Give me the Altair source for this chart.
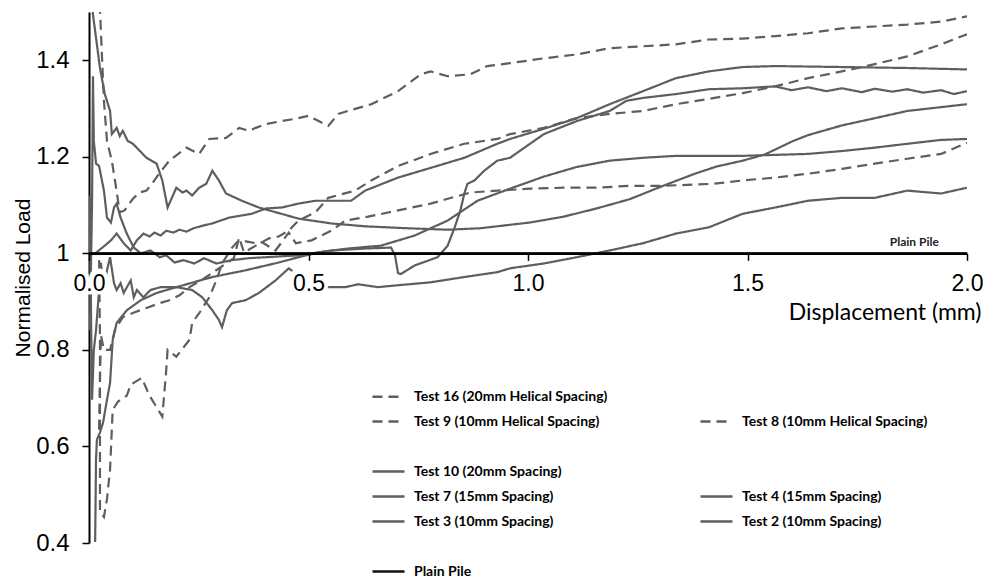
import altair as alt
import pandas as pd

# ---------------- data (displacement mm, normalised load) ----------------
test16 = [(0.023, 1.55), (0.029, 1.419), (0.034, 1.316), (0.041, 1.233), (0.052, 1.192), (0.061, 1.140),
          (0.070, 1.085), (0.081, 1.089), (0.100, 1.113), (0.115, 1.126), (0.131, 1.130), (0.149, 1.151),
          (0.161, 1.167), (0.183, 1.192), (0.222, 1.219), (0.251, 1.206), (0.274, 1.237), (0.312, 1.239),
          (0.342, 1.260), (0.364, 1.254), (0.380, 1.260), (0.403, 1.268), (0.439, 1.274), (0.477, 1.280),
          (0.500, 1.285), (0.523, 1.274), (0.545, 1.264), (0.568, 1.289), (0.590, 1.295), (0.643, 1.309),
          (0.704, 1.336), (0.756, 1.371), (0.778, 1.377), (0.817, 1.367), (0.869, 1.371), (0.907, 1.388),
          (0.959, 1.394), (1.036, 1.404), (1.111, 1.412), (1.186, 1.425), (1.262, 1.429), (1.337, 1.433),
          (1.412, 1.443), (1.489, 1.445), (1.563, 1.450), (1.638, 1.456), (1.715, 1.466), (1.790, 1.470),
          (1.864, 1.474), (1.941, 1.480), (2.000, 1.491)]

test9 = [(0.023, 0.635), (0.025, 0.738), (0.027, 0.831), (0.034, 0.800), (0.048, 0.800), (0.059, 0.841),
         (0.077, 0.868), (0.104, 0.878), (0.131, 0.887), (0.161, 0.897), (0.183, 0.903), (0.206, 0.913),
         (0.229, 0.930), (0.262, 0.948), (0.296, 0.969), (0.330, 0.990), (0.342, 1.033), (0.353, 1.002),
         (0.380, 1.016), (0.410, 1.031), (0.432, 1.035), (0.455, 1.047), (0.477, 1.068), (0.516, 1.085),
         (0.545, 1.115), (0.606, 1.130), (0.643, 1.151), (0.704, 1.181), (0.778, 1.206), (0.855, 1.227),
         (0.930, 1.237), (0.959, 1.247), (1.036, 1.260), (1.111, 1.280), (1.186, 1.289), (1.262, 1.295),
         (1.337, 1.309), (1.412, 1.320), (1.489, 1.332), (1.563, 1.346), (1.638, 1.363), (1.715, 1.377),
         (1.790, 1.392), (1.864, 1.408), (1.941, 1.433), (2.000, 1.454)]

test8 = [(0.023, 0.986), (0.025, 0.821), (0.025, 0.635), (0.025, 0.464), (0.034, 0.454), (0.041, 0.491),
         (0.048, 0.553), (0.054, 0.676), (0.066, 0.693), (0.086, 0.705), (0.095, 0.728), (0.120, 0.742),
         (0.138, 0.705), (0.167, 0.662), (0.176, 0.759), (0.179, 0.800), (0.199, 0.786), (0.229, 0.821),
         (0.235, 0.856), (0.251, 0.876), (0.274, 0.909), (0.290, 0.944), (0.303, 0.979), (0.326, 1.012),
         (0.337, 1.023), (0.357, 1.025), (0.380, 1.021), (0.394, 1.023), (0.425, 1.006), (0.455, 1.043),
         (0.471, 1.021), (0.507, 1.027), (0.552, 1.047), (0.584, 1.068), (0.636, 1.076), (0.704, 1.089),
         (0.778, 1.103), (0.817, 1.113), (0.869, 1.126), (0.930, 1.130), (1.005, 1.134), (1.081, 1.136),
         (1.156, 1.136), (1.231, 1.140), (1.308, 1.140), (1.421, 1.144), (1.489, 1.151), (1.563, 1.157),
         (1.638, 1.165), (1.715, 1.175), (1.790, 1.186), (1.864, 1.196), (1.941, 1.206), (2.000, 1.229)]

test10 = [(0.014, 1.000), (0.036, 1.016), (0.050, 1.027), (0.063, 1.041), (0.079, 1.021), (0.095, 1.006),
          (0.109, 1.027), (0.124, 1.041), (0.138, 1.035), (0.149, 1.043), (0.163, 1.037), (0.176, 1.047),
          (0.192, 1.043), (0.206, 1.049), (0.222, 1.045), (0.238, 1.052), (0.262, 1.058), (0.281, 1.062),
          (0.319, 1.074), (0.371, 1.082), (0.403, 1.093), (0.439, 1.095), (0.477, 1.103), (0.516, 1.109),
          (0.552, 1.109), (0.597, 1.109), (0.629, 1.130), (0.704, 1.157), (0.778, 1.177), (0.855, 1.198),
          (0.930, 1.227), (0.959, 1.237), (1.036, 1.258), (1.111, 1.280), (1.186, 1.309), (1.262, 1.336),
          (1.337, 1.363), (1.412, 1.377), (1.489, 1.386), (1.563, 1.388), (1.715, 1.386), (1.864, 1.384),
          (2.000, 1.381)]

test7 = [(0.002, 0.841), (0.007, 1.109), (0.009, 1.367), (0.011, 1.233), (0.016, 1.186), (0.023, 1.181),
         (0.034, 1.130), (0.041, 1.074), (0.050, 1.064), (0.057, 1.095), (0.063, 1.103), (0.072, 1.074),
         (0.086, 1.041), (0.102, 1.012), (0.118, 1.000), (0.140, 1.006), (0.161, 0.992), (0.176, 0.996),
         (0.195, 0.981), (0.215, 0.986), (0.240, 0.979), (0.262, 0.990), (0.290, 0.979), (0.326, 0.986),
         (0.364, 0.990), (0.403, 0.992), (0.477, 0.996), (0.552, 1.006), (0.629, 1.010), (0.688, 1.012),
         (0.697, 0.996), (0.704, 0.959), (0.710, 0.957), (0.742, 0.975), (0.794, 0.992), (0.817, 1.016),
         (0.833, 1.054), (0.846, 1.089), (0.855, 1.124), (0.862, 1.144), (0.878, 1.151), (0.900, 1.171),
         (0.930, 1.192), (0.959, 1.198), (1.036, 1.247), (1.111, 1.274), (1.186, 1.295), (1.224, 1.316),
         (1.262, 1.322), (1.337, 1.330), (1.412, 1.340), (1.489, 1.342), (1.563, 1.346), (1.600, 1.338),
         (1.638, 1.344), (1.680, 1.336), (1.715, 1.342), (1.760, 1.334), (1.790, 1.341), (1.830, 1.335),
         (1.864, 1.340), (1.900, 1.333), (1.941, 1.338), (1.970, 1.330), (2.000, 1.336)]

test4 = [(0.007, 1.55), (0.009, 1.495), (0.025, 1.384), (0.036, 1.330), (0.048, 1.295), (0.052, 1.247),
         (0.063, 1.260), (0.070, 1.243), (0.077, 1.254), (0.088, 1.233), (0.100, 1.227), (0.131, 1.198),
         (0.154, 1.186), (0.167, 1.151), (0.179, 1.095), (0.199, 1.136), (0.213, 1.126), (0.222, 1.130),
         (0.235, 1.120), (0.251, 1.136), (0.267, 1.144), (0.281, 1.171), (0.296, 1.151), (0.312, 1.124),
         (0.348, 1.109), (0.387, 1.095), (0.477, 1.072), (0.552, 1.062), (0.629, 1.056), (0.726, 1.052),
         (0.817, 1.049), (0.891, 1.052), (1.005, 1.064), (1.081, 1.076), (1.156, 1.093), (1.231, 1.112),
         (1.308, 1.140), (1.380, 1.165), (1.430, 1.180), (1.489, 1.192), (1.540, 1.205), (1.602, 1.232),
         (1.638, 1.245), (1.715, 1.265), (1.790, 1.280), (1.864, 1.295), (2.000, 1.309)]

test3 = [(0.014, 0.402), (0.016, 0.573), (0.018, 0.614), (0.025, 0.629), (0.032, 0.649), (0.041, 0.697),
         (0.048, 0.732), (0.054, 0.821), (0.063, 0.856), (0.086, 0.882), (0.118, 0.903), (0.154, 0.918),
         (0.199, 0.930), (0.238, 0.940), (0.281, 0.951), (0.357, 0.965), (0.432, 0.981), (0.477, 0.992),
         (0.523, 1.002), (0.590, 1.010), (0.665, 1.016), (0.742, 1.037), (0.817, 1.068), (0.885, 1.109),
         (0.959, 1.134), (1.036, 1.159), (1.111, 1.179), (1.186, 1.192), (1.262, 1.198), (1.337, 1.202),
         (1.412, 1.202), (1.489, 1.202), (1.563, 1.204), (1.638, 1.206), (1.715, 1.212), (1.790, 1.219),
         (1.864, 1.227), (1.941, 1.235), (2.000, 1.237)]

test2 = [(0.000, 1.000), (0.002, 1.120), (0.005, 0.841), (0.007, 0.697), (0.011, 0.800), (0.016, 0.841),
         (0.023, 0.924), (0.027, 0.981), (0.034, 0.924), (0.041, 0.965), (0.048, 0.992), (0.057, 0.938),
         (0.063, 0.924), (0.072, 0.938), (0.079, 0.918), (0.095, 0.944), (0.102, 0.909), (0.109, 0.924),
         (0.124, 0.909), (0.140, 0.924), (0.163, 0.930), (0.199, 0.930), (0.235, 0.924), (0.258, 0.909),
         (0.281, 0.882), (0.296, 0.862), (0.303, 0.847), (0.314, 0.882), (0.326, 0.897), (0.357, 0.903),
         (0.387, 0.918), (0.425, 0.944), (0.455, 0.969), (0.500, 0.938), (0.545, 0.930), (0.584, 0.930),
         (0.613, 0.936), (0.658, 0.930), (0.704, 0.934), (0.778, 0.940), (0.855, 0.951), (0.930, 0.961),
         (0.959, 0.969), (1.005, 0.975), (1.036, 0.979), (1.111, 0.992), (1.186, 1.006), (1.262, 1.021),
         (1.337, 1.041), (1.412, 1.054), (1.489, 1.082), (1.563, 1.095), (1.638, 1.109), (1.715, 1.115),
         (1.790, 1.115), (1.864, 1.130), (1.941, 1.124), (2.000, 1.136)]

plain_pile = [(0.0, 1.0), (2.0, 1.0)]

# legend entries (blank entries keep the original grid layout)
series_order = ["Test 16 (20mm Helical Spacing)", " ",
                "Test 9 (10mm  Helical Spacing)", "Test 8 (10mm Helical  Spacing)",
                "  ", "   ",
                "Test 10 (20mm Spacing)", "    ",
                "Test 7 (15mm Spacing)", "Test 4 (15mm Spacing)",
                "Test 3 (10mm Spacing)", "Test 2 (10mm Spacing)",
                "     ", "      ",
                "Plain Pile"]
series_data = {
    "Test 16 (20mm Helical Spacing)": test16,
    "Test 9 (10mm  Helical Spacing)": test9,
    "Test 8 (10mm Helical  Spacing)": test8,
    "Test 10 (20mm Spacing)": test10,
    "Test 7 (15mm Spacing)": test7,
    "Test 4 (15mm Spacing)": test4,
    "Test 3 (10mm Spacing)": test3,
    "Test 2 (10mm Spacing)": test2,
    "Plain Pile": plain_pile,
}
x_ticks = [0.0, 0.5, 1.0, 1.5, 2.0]
y_ticks = [0.4, 0.6, 0.8, 1.0, 1.2, 1.4]
annotation = [(1.88, 1.0, "Plain Pile")]

# ---------------- styles ----------------
GRAY = "#5e5e5e"
NONE = "rgba(0,0,0,0)"
BLACK = "#111111"
DASH = [10, 6]
SOLID = [1, 0]
color_range, dash_range = [], []
for s in series_order:
    if s.strip() == "":
        color_range.append(NONE); dash_range.append(SOLID)
    elif s == "Plain Pile":
        color_range.append(BLACK); dash_range.append(SOLID)
    elif "Helical" in s:
        color_range.append(GRAY); dash_range.append(DASH)
    else:
        color_range.append(GRAY); dash_range.append(SOLID)

rows = []
for name, pts in series_data.items():
    for i, (xv, yv) in enumerate(pts):
        rows.append({"series": name, "x": xv, "y": yv, "idx": i})
df = pd.DataFrame(rows)

W, H = 878, 531
Y0, Y1 = 0.4, 1.5
axis_offset = -(1.0 - Y0) / (Y1 - Y0) * H

x_enc = alt.X("x:Q", scale=alt.Scale(domain=[0, 2], nice=False, zero=False),
              axis=alt.Axis(values=x_ticks, format=".1f", offset=axis_offset, zindex=1, grid=False,
                            domainColor="black", domainWidth=2.5, tickColor="black", tickWidth=1.5,
                            tickSize=7, labelFont="Liberation Sans", labelFontSize=23,
                            labelColor="black", labelPadding=12, labelFlush=False,
                            title="Displacement (mm)", titleFont="Lato", titleFontSize=23,
                            titleFontWeight="normal", titleColor="black", titleAlign="right",
                            titleX=892, titleY=48, titleBaseline="top"))
y_enc = alt.Y("y:Q", scale=alt.Scale(domain=[Y0, Y1], nice=False, zero=False),
              axis=alt.Axis(values=y_ticks, format="~g", zindex=0, grid=False,
                            domainColor="black", domainWidth=2, tickColor="black", tickWidth=1.5,
                            tickSize=7, labelFont="Liberation Sans", labelFontSize=24,
                            labelColor="black", labelPadding=13,
                            title="Normalised Load", titleFont="Liberation Sans", titleFontSize=21,
                            titleFontWeight="normal", titleColor="black", titlePadding=2))

lines = alt.Chart(df).mark_line(strokeWidth=2.2, clip=True).encode(
    x=x_enc, y=y_enc,
    color=alt.Color("series:N", scale=alt.Scale(domain=series_order, range=color_range), title=None),
    strokeDash=alt.StrokeDash("series:N", scale=alt.Scale(domain=series_order, range=dash_range), title=None),
    order="idx:Q",
)

tick_df = pd.DataFrame({"x": x_ticks, "y": [1.0] * len(x_ticks), "label": [f"{v:.1f}" for v in x_ticks]})
halo = alt.Chart(tick_df).mark_text(font="Liberation Sans", fontSize=23, baseline="top", dy=19,
                                    fill="white", stroke="white", strokeWidth=9, strokeJoin="round").encode(
    x=x_enc, y=y_enc, text="label:N")

anno_df = pd.DataFrame([{"x": a[0], "y": a[1], "label": a[2]} for a in annotation])
anno = alt.Chart(anno_df).mark_text(font="Lato", fontWeight="bold", fontSize=12, baseline="bottom",
                                    dy=-4, color="#222222").encode(x=x_enc, y=y_enc, text="label:N")

chart = alt.layer(lines, halo, anno).properties(
    width=W, height=H,
    autosize=alt.AutoSizeParams(type="none"),
    padding={"left": 81, "top": 4, "right": 16, "bottom": 37},
).configure_view(stroke=None).configure_legend(
    orient="none", legendX=282, legendY=367, direction="horizontal", columns=2,
    columnPadding=87, rowPadding=0,
    gridAlign="each", padding=0, symbolType="stroke", symbolSize=1024, symbolStrokeWidth=2.5,
    labelFont="Lato", labelFontSize=14, labelFontWeight="bold", labelColor="black",
    labelLimit=400, labelOffset=8,
)

chart.save("out.html", embed_options={"renderer": "svg", "actions": False})
